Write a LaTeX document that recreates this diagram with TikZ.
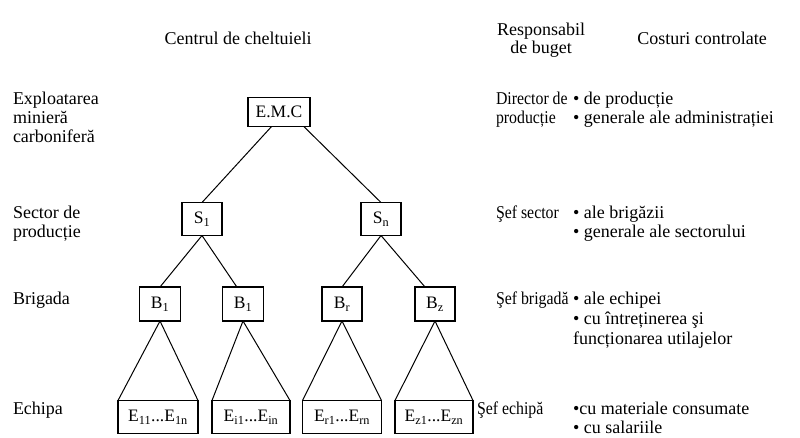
\documentclass[tikz,border=0pt]{standalone}
\usepackage{fontspec}
\setmainfont{Liberation Serif}
\newfontfamily\midfont[FakeStretch=0.88]{Liberation Serif}
\usetikzlibrary{calc}
\begin{document}
\begin{tikzpicture}[x=1pt,y=-1pt,
  every node/.style={inner sep=0pt,outer sep=0pt},
  lbl/.style={anchor=base west,font=\fontsize{18}{20}\selectfont},
  mid/.style={anchor=base west,font=\midfont\fontsize{18}{20}\selectfont},
  hdr/.style={anchor=base,font=\fontsize{18}{20}\selectfont},
  box/.style={draw,line width=1.1pt,font=\fontsize{17.5}{20}\selectfont,minimum height=30pt},
  link/.style={line width=1pt}]
\useasboundingbox (0,0) rectangle (800,437);
% headers
\node[hdr] (h1) at (238,44) {Centrul de cheltuieli};
\node[hdr] (h2) at (541,35) {Responsabil};
\node[hdr] (h3) at (541,53) {de buget};
\node[hdr] (h4) at (702,44) {Costuri controlate};
% left column
\node[lbl] (l1) at (13,104) {Exploatarea};
\node[lbl] (l2) at (13,123) {minieră};
\node[lbl] (l3) at (13,142) {carboniferă};
\node[lbl] (l4) at (13,218) {Sector de};
\node[lbl] (l5) at (13,237) {producție};
\node[lbl] (l6) at (13,304) {Brigada};
\node[lbl] (l7) at (13,414) {Echipa};
% middle column
\node[mid] (m1) at (496,104) {Director de};
\node[mid] (m2) at (496,123) {producție};
\node[mid] (m3) at (496,218) {Şef sector};
\node[mid] (m4) at (496,304) {Şef brigadă};
\node[mid] (m5) at (477,414) {Şef echipă};
% right column
\node[lbl] (r1) at (573,104) {• de producție};
\node[lbl] (r2) at (573,123) {• generale ale administrației};
\node[lbl] (r3) at (573,218) {• ale brigăzii};
\node[lbl] (r4) at (573,237) {• generale ale sectorului};
\node[lbl] (r5) at (573,304) {• ale echipei};
\node[lbl] (r6) at (573,324) {• cu întreținerea şi};
\node[lbl] (r7) at (573,344) {funcționarea utilajelor};
\node[lbl] (r8) at (573,414) {•cu materiale consumate};
\node[lbl] (r9) at (573,433) {• cu salariile};
% boxes
\node[box,minimum width=62pt,minimum height=29pt] (emc) at (279,112) {E.M.C};
\node[box,minimum width=40pt,minimum height=33pt] (s1) at (202,219) {S\textsubscript{1}};
\node[box,minimum width=40pt,minimum height=33pt] (sn) at (381,219) {S\textsubscript{n}};
\node[box,minimum width=41pt,minimum height=34pt] (b1) at (160,304) {B\textsubscript{1}};
\node[box,minimum width=41pt,minimum height=34pt] (b2) at (243,304) {B\textsubscript{1}};
\node[box,minimum width=40pt,minimum height=34pt] (b3) at (342,304) {B\textsubscript{r}};
\node[box,minimum width=40pt,minimum height=34pt] (b4) at (435,304) {B\textsubscript{z}};
\node[box,minimum width=80pt,minimum height=33pt] (e1) at (158,417) {E\textsubscript{11}...E\textsubscript{1n}};
\node[box,minimum width=78pt,minimum height=33pt] (e2) at (251,417) {E\textsubscript{i1}...E\textsubscript{in}};
\node[box,minimum width=79pt,minimum height=33pt] (e3) at (342,417) {E\textsubscript{r1}...E\textsubscript{rn}};
\node[box,minimum width=78pt,minimum height=33pt] (e4) at (434,417) {E\textsubscript{z1}...E\textsubscript{zn}};
% connectors
\draw[link] ($(emc.south west)!0.38!(emc.south east)$) -- (s1.north);
\draw[link] ($(emc.south west)!0.9!(emc.south east)$) -- (sn.north);
\draw[link] (s1.south) -- (b1.north);
\draw[link] (s1.south) -- ($(b2.north west)!0.35!(b2.north east)$);
\draw[link] (sn.south) -- (b3.north);
\draw[link] (sn.south) -- ($(b4.north west)!0.25!(b4.north east)$);
\foreach \b/\e in {b1/e1,b2/e2,b3/e3,b4/e4}{
  \draw[link] (\b.south) -- (\e.north west);
  \draw[link] (\b.south) -- (\e.north east);
}
\end{tikzpicture}
\end{document}
